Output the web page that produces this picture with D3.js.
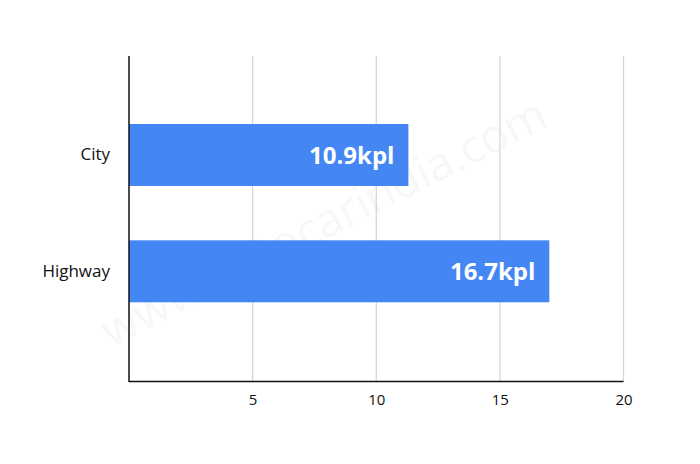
<!DOCTYPE html>
<html><head><meta charset="utf-8">
<script src="https://cdn.jsdelivr.net/npm/d3@7"></script>
<style>
html,body{margin:0;padding:0;background:#fff;}
svg{display:block;font-family:"Open Sans",sans-serif;}
</style></head>
<body><svg id="c" width="700" height="464"></svg>
<script>
const categories = ["City", "Highway"];
const barValues = [11.3, 17.0];
const valueLabels = ["10.9kpl", "16.7kpl"];
const tickValues = [5, 10, 15, 20];

(function () {
const svg = d3.select("#c");
const mLeft = 129, mRight = 623.5, mTop = 56, mBottom = 381.5;

const x = d3.scaleLinear().domain([0, 20]).range([mLeft, mRight]);
const y = d3.scaleBand().domain(categories).range([124, 302.3]).paddingInner(0.467).paddingOuter(0);

// watermark
svg.append("text")
  .attr("transform", "translate(111,348) rotate(-26.9)")
  .attr("font-size", 46).attr("fill", "#000").attr("fill-opacity", 0.055)
  .attr("font-family", "Open Sans, sans-serif")
  .text("www.autocarindia.com");

// gridlines
svg.append("g").selectAll("line").data(tickValues).join("line")
  .attr("x1", d => x(d)).attr("x2", d => x(d))
  .attr("y1", mTop).attr("y2", mBottom)
  .attr("stroke", "#d4d4d4").attr("stroke-width", 1.2);

// bars
svg.append("g").selectAll("rect").data(categories).join("rect")
  .attr("x", x(0)).attr("y", d => y(d))
  .attr("width", (d, i) => x(barValues[i]) - x(0))
  .attr("height", y.bandwidth())
  .attr("fill", "#4487F4");

// value labels
svg.append("g").selectAll("text").data(categories).join("text")
  .attr("x", (d, i) => x(barValues[i]) - 14)
  .attr("y", d => y(d) + y.bandwidth() / 2)
  .attr("dy", "0.36em")
  .attr("text-anchor", "end")
  .attr("font-size", 24).attr("font-weight", 700).attr("fill", "#fff")
  .text((d, i) => valueLabels[i]);

// x axis
const xAxis = d3.axisBottom(x).tickValues(tickValues).tickSize(0).tickPadding(13);
const gx = svg.append("g").attr("transform", `translate(0,${mBottom})`).call(xAxis);
gx.select(".domain").remove();
gx.selectAll("text").attr("font-size", 15).attr("fill", "#111").attr("font-family", "Open Sans, sans-serif");

// y axis labels
const yAxis = d3.axisLeft(y).tickSize(0).tickPadding(19);
const gy = svg.append("g").attr("transform", `translate(${mLeft},0)`).call(yAxis);
gy.select(".domain").remove();
gy.selectAll("text").attr("font-size", 17).attr("fill", "#111").attr("font-family", "Open Sans, sans-serif");

// axis lines
svg.append("line").attr("x1", mLeft).attr("x2", mLeft).attr("y1", mTop).attr("y2", mBottom + 0.5)
  .attr("stroke", "#111").attr("stroke-width", 1.5);
svg.append("line").attr("x1", mLeft).attr("x2", mRight).attr("y1", mBottom).attr("y2", mBottom)
  .attr("stroke", "#111").attr("stroke-width", 1.5);
})();
</script></body></html>
